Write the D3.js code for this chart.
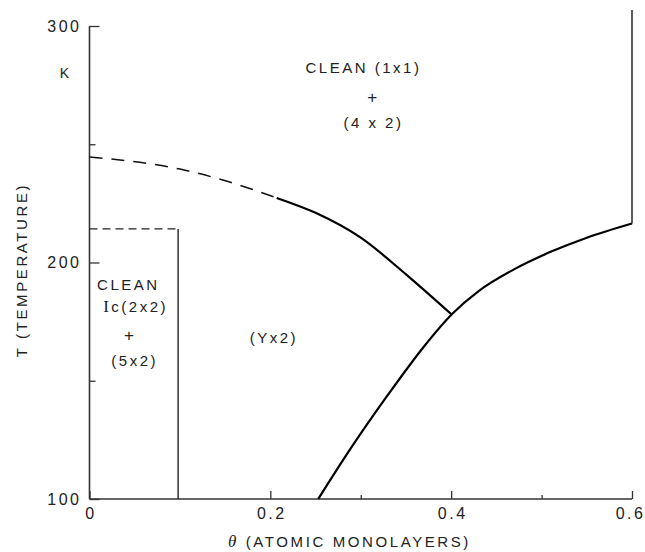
<!DOCTYPE html>
<html>
<head>
<meta charset="utf-8">
<script src="https://cdn.jsdelivr.net/npm/d3@7"></script>
<style>
  body { margin: 0; background: #fff; }
  svg text { font-family: "Liberation Sans", "DejaVu Sans", sans-serif; fill: #222; }
</style>
</head>
<body>
<script>
// phase boundaries, coverage (ML) vs temperature (K)
var upperDashed = [[0, 244.6], [0.1, 239.5], [0.155, 234], [0.207, 227.3]];
var upperSolid = [[0.207, 227.3], [0.25, 221], [0.30, 210.5], [0.35, 195], [0.40, 178.2]];
var lowerCurve = [[0.253, 100], [0.29, 122], [0.33, 144], [0.37, 164.5], [0.401, 178.2],
  [0.43, 187.8], [0.47, 197.2], [0.51, 204.5], [0.55, 210.5], [0.6, 216.5]];
var rightEdge = [[0.6, 216.5], [0.6, 306.8]];
var boxTop = [[0, 214.2], [0.098, 214.2]];
var boxSide = [[0.098, 214.2], [0.098, 100]];

var xMajor = [0, 0.2, 0.4, 0.6];
var xMinor = [0.3, 0.5];
var yMajor = [100, 200, 300];
var yMinor = [150, 250];

var phaseNames = ["CLEAN (1x1)", "+", "(4 x 2)", "CLEAN", "c(2x2)", "+", "(5x2)", "(Yx2)"];
var phaseX = [0.303, 0.314, 0.314, 0.043, 0.051, 0.045, 0.05, 0.204];
var phaseT = [282.2, 270, 259, 190.5, 181.2, 169.3, 158.4, 168];

var svgWidth = 645;
var svgHeight = 552;

var svg = d3.select("body")
  .append("svg")
  .attr("width", svgWidth)
  .attr("height", svgHeight);

var x = d3.scaleLinear().domain([0, 0.6]).range([89.5, 632]);
var y = d3.scaleLinear().domain([100, 300]).range([499, 26]);

var line = d3.line()
  .x(function (d) { return x(d[0]); })
  .y(function (d) { return y(d[1]); });
var curve = d3.line()
  .x(function (d) { return x(d[0]); })
  .y(function (d) { return y(d[1]); })
  .curve(d3.curveMonotoneX);

// axes
var xAxis = d3.axisBottom(x).tickValues(xMajor).tickSize(-8).tickPadding(9)
  .tickFormat(function (d) { return d === 0 ? "0" : d3.format(".1f")(d); });
var xAxisMinor = d3.axisBottom(x).tickValues(xMinor).tickSize(-4).tickFormat("");
var yAxis = d3.axisLeft(y).tickValues(yMajor).tickSize(-10).tickPadding(8);
var yAxisMinor = d3.axisLeft(y).tickValues(yMinor).tickSize(-6).tickFormat("");

function styleAxis(g) {
  g.select(".domain").attr("stroke", "#333").attr("stroke-width", 1.6);
  g.selectAll(".tick line").attr("stroke", "#333").attr("stroke-width", 1.3);
  g.selectAll(".tick text")
    .style("font-family", "'Liberation Sans', sans-serif")
    .style("font-size", "16px")
    .style("letter-spacing", "2.5px")
    .attr("fill", "#222");
}

svg.append("g").attr("transform", "translate(0," + y(100) + ")")
  .call(xAxis).call(styleAxis)
  .call(function (g) {
    g.select(".domain").attr("d", "M" + x(0) + ",0H" + x(0.6));
    g.selectAll(".tick text").attr("dx", function (d) { return d === 0.6 ? "-2" : "1"; });
  });
svg.append("g").attr("transform", "translate(0," + y(100) + ")")
  .call(xAxisMinor).call(styleAxis)
  .call(function (g) { g.select(".domain").remove(); });
svg.append("g").attr("transform", "translate(" + x(0) + ",0)")
  .call(yAxis).call(styleAxis)
  .call(function (g) { g.select(".domain").attr("d", "M0," + y(300) + "V" + y(100)); });
svg.append("g").attr("transform", "translate(" + x(0) + ",0)")
  .call(yAxisMinor).call(styleAxis)
  .call(function (g) { g.select(".domain").remove(); });

// boundaries
svg.append("path").datum(upperDashed).attr("d", curve)
  .attr("fill", "none").attr("stroke", "#111").attr("stroke-width", 1.5)
  .attr("stroke-dasharray", "13,9");
svg.append("path").datum(upperSolid).attr("d", curve)
  .attr("fill", "none").attr("stroke", "#000").attr("stroke-width", 2.2);
svg.append("path").datum(lowerCurve).attr("d", curve)
  .attr("fill", "none").attr("stroke", "#000").attr("stroke-width", 2.2);
svg.append("path").datum(rightEdge).attr("d", line)
  .attr("fill", "none").attr("stroke", "#333").attr("stroke-width", 1.6);
svg.append("path").datum(boxTop).attr("d", line)
  .attr("fill", "none").attr("stroke", "#222").attr("stroke-width", 1.4)
  .attr("stroke-dasharray", "8,5");
svg.append("path").datum(boxSide).attr("d", line)
  .attr("fill", "none").attr("stroke", "#222").attr("stroke-width", 1.4);

// phase labels
svg.selectAll(".phase")
  .data(phaseNames)
  .enter().append("text")
  .attr("class", "phase")
  .attr("x", function (d, i) { return x(phaseX[i]); })
  .attr("y", function (d, i) { return y(phaseT[i]); })
  .attr("dy", "0.35em")
  .attr("text-anchor", "middle")
  .style("font-size", function (d) { return d === "+" ? "17px" : "15px"; })
  .style("letter-spacing", "2.5px")
  .each(function (d) {
    if (d === "c(2x2)") {
      var t = d3.select(this);
      t.append("tspan").style("font-family", "'Liberation Serif', serif").style("font-size", "17px").text("I");
      t.append("tspan").text(d);
    } else {
      d3.select(this).text(d);
    }
  });

// unit and axis titles
svg.append("text")
  .attr("x", x(0) - 25).attr("y", y(280))
  .attr("dy", "0.35em").attr("text-anchor", "middle")
  .style("font-size", "14px")
  .text("K");

svg.append("text")
  .attr("x", 228).attr("y", 547)
  .style("font-size", "15px")
  .style("letter-spacing", "2.6px")
  .html("<tspan style='font-family:\"Liberation Serif\",serif;font-style:italic;font-size:17px'>θ</tspan> (ATOMIC MONOLAYERS)");

svg.append("text")
  .attr("transform", "translate(27," + 270 + ") rotate(-90)")
  .attr("text-anchor", "middle")
  .style("font-size", "15px")
  .style("letter-spacing", "2.6px")
  .text("T (TEMPERATURE)");
</script>
</body>
</html>
